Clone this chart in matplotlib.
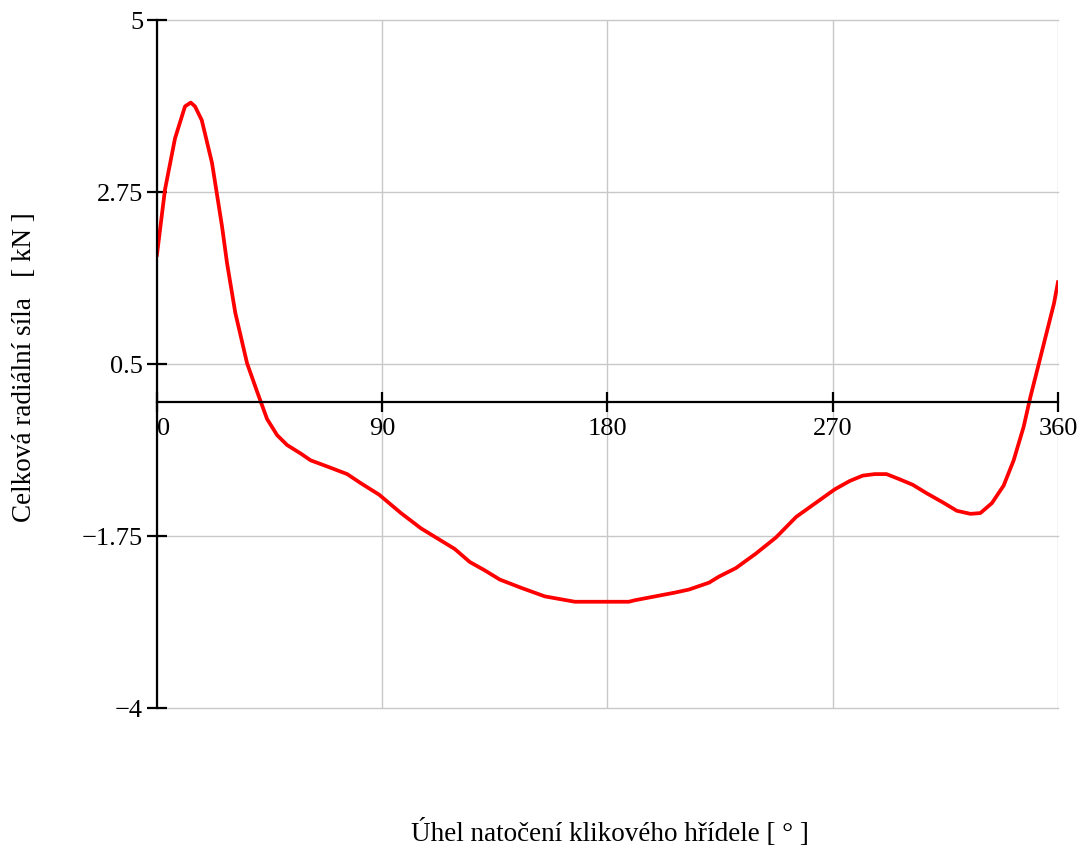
import numpy as np
import matplotlib
matplotlib.use("Agg")
import matplotlib.pyplot as plt

# Celková radiální síla v závislosti na úhlu natočení klikového hřídele
uhel = [0, 3.2, 7.2, 11.2, 13.5, 15.2, 17.9, 22, 26, 28, 31.3, 36, 40, 42, 44,
        48, 52, 57.4, 61.4, 68, 76, 81.5, 88.8, 97.5, 105.5, 112, 119, 125,
        131, 137, 145.7, 155, 167, 178, 188.5, 191, 199, 207, 212.6, 220.6,
        224.6, 231.3, 239.3, 247.3, 255.4, 264.8, 270.8, 276.8, 282, 286.8,
        291.5, 296.9, 302, 307.5, 314, 319.6, 325, 329, 333.6, 338.3, 342.3,
        346.3, 349, 352.4, 355.7, 358.4, 360]
sila = [1.93, 2.78, 3.45, 3.87, 3.92, 3.87, 3.69, 3.13, 2.30, 1.82, 1.17, 0.51,
        0.14, -0.04, -0.22, -0.43, -0.56, -0.67, -0.76, -0.84, -0.94, -1.06,
        -1.21, -1.45, -1.65, -1.78, -1.92, -2.09, -2.20, -2.32, -2.43, -2.54,
        -2.61, -2.61, -2.61, -2.59, -2.54, -2.49, -2.45, -2.36, -2.28, -2.17,
        -1.98, -1.77, -1.50, -1.28, -1.14, -1.03, -0.96, -0.94, -0.94, -1.01,
        -1.08, -1.19, -1.31, -1.42, -1.46, -1.45, -1.32, -1.09, -0.76, -0.32,
        0.07, 0.51, 0.94, 1.29, 1.57]

x_ticks = [0, 90, 180, 270, 360]
y_ticks = [-4, -1.75, 0.5, 2.75, 5]
y_labels = ["\u22124", "\u22121.75", "0.5", "2.75", "5"]

plt.rcParams['font.family'] = ['Liberation Serif', 'DejaVu Serif']
fs_tick = 19
fs_label = 19.5

fig = plt.figure(figsize=(10.9, 8.52), dpi=100)
ax = fig.add_axes([0.144, 0.169, 0.8266, 0.8075])

ax.plot(uhel, sila, color='#ff0000', lw=2.7, solid_joinstyle='round', zorder=3)

ax.set_xlim(0, 360)
ax.set_ylim(-4, 5)
ax.set_xticks(x_ticks)
ax.set_yticks(y_ticks)
ax.set_yticklabels(y_labels)

ax.grid(True, color='#c8c8c8', lw=1.0)
ax.set_axisbelow(True)
for gl in ax.get_xgridlines() + ax.get_ygridlines():
    gl.set_clip_on(False)

# osa x vede nulou, osa y levým okrajem
ax.spines['bottom'].set_position(('data', 0))
ax.spines['top'].set_visible(False)
ax.spines['right'].set_visible(False)
for s in ('left', 'bottom'):
    ax.spines[s].set_linewidth(1.6)
    ax.spines[s].set_zorder(4)

ax.tick_params(axis='both', direction='inout', length=14, width=1.6,
               labelsize=fs_tick, colors='black')
ax.tick_params(axis='y', pad=3)
ax.tick_params(axis='x', pad=4)

labels = ax.get_xticklabels()
labels[0].set_horizontalalignment('left')
labels[0].set_x(2)

fig.text(0.5596, 0.0223, "Úhel natočení klikového hřídele [ ° ]",
         ha='center', va='center', fontsize=fs_label)
fig.text(0.0229, 0.5692, "Celková radiální síla   [ kN ]", rotation=90,
         ha='center', va='center', fontsize=fs_label)

fig.savefig("out.png", dpi=100)
